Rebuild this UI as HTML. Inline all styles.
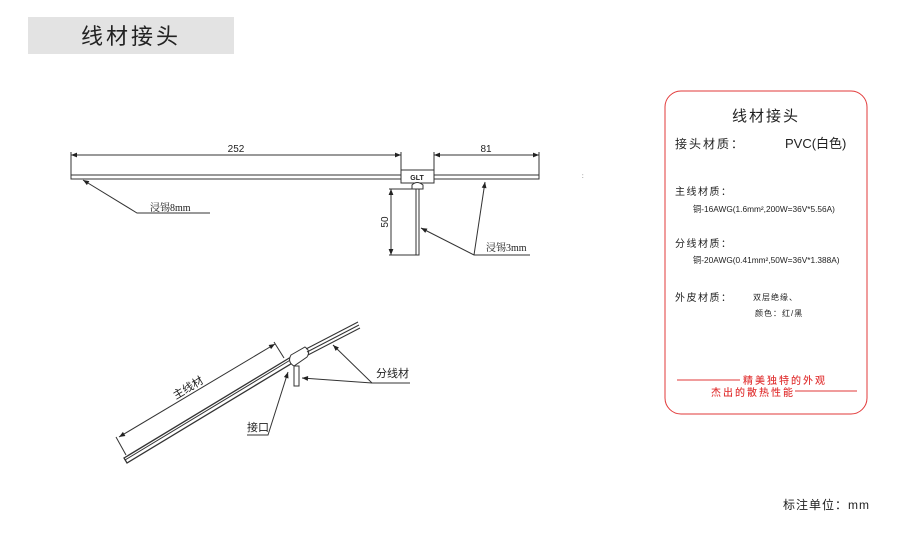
<!DOCTYPE html>
<html><head><meta charset="utf-8"><style>
body{margin:0;background:#fff;}
svg{display:block;font-family:"Liberation Sans","Noto Sans CJK SC",sans-serif;}
</style></head><body>
<svg width="899" height="537" viewBox="0 0 899 537" xmlns="http://www.w3.org/2000/svg">
<defs>
<marker id="a" viewBox="0 0 10 10" refX="10" refY="5" markerWidth="8" markerHeight="6" orient="auto-start-reverse"><path d="M0,1 L10,5 L0,9 z" fill="#222"/></marker>
</defs>
<rect x="28" y="17" width="206" height="37" fill="#e3e3e3"/>
<text x="131" y="44" font-size="22" text-anchor="middle" fill="#222" letter-spacing="3">线材接头</text>

<g stroke="#333" stroke-width="1" fill="none">
<rect x="71" y="175" width="330" height="4" fill="#fff"/>
<rect x="434" y="175" width="105" height="4" fill="#fff"/>
<rect x="401" y="170" width="33" height="13" fill="#fff"/>
<path d="M412,189 L412,185 Q417,180 423,185 L423,189 Z" fill="#fff"/>
<rect x="416" y="189" width="3" height="66" fill="#fff"/>
<line x1="71" y1="152" x2="71" y2="175"/>
<line x1="401" y1="152" x2="401" y2="170"/>
<line x1="434" y1="152" x2="434" y2="170"/>
<line x1="539" y1="152" x2="539" y2="175"/>
<line x1="71" y1="155" x2="401" y2="155" marker-start="url(#a)" marker-end="url(#a)"/>
<line x1="434" y1="155" x2="539" y2="155" marker-start="url(#a)" marker-end="url(#a)"/>
<line x1="389" y1="189" x2="416" y2="189"/>
<line x1="389" y1="255" x2="416" y2="255"/>
<line x1="391" y1="189" x2="391" y2="255" marker-start="url(#a)" marker-end="url(#a)"/>
<polyline points="210,213 137,213 83,180" marker-end="url(#a)"/>
<polyline points="530,255 474,255 421,228" marker-end="url(#a)"/>
<line x1="474" y1="255" x2="485" y2="182" marker-end="url(#a)"/>

<path d="M124,458 L291,357 L294,362 L127,463 Z" fill="#fff" stroke-width="1.3"/>
<line x1="125" y1="460" x2="292" y2="359"/>
<path d="M291,355 L305,347 Q311,351 307,357 L294,366 Q287,362 291,355 Z" fill="#fff"/>
<line x1="306" y1="349" x2="358" y2="322"/>
<line x1="307" y1="352" x2="359" y2="325"/>
<line x1="308" y1="355" x2="360" y2="328"/>
<rect x="294" y="366" width="5" height="20" fill="#fff"/>
<line x1="116" y1="437" x2="126" y2="455"/>
<line x1="274" y1="342" x2="284" y2="358"/>
<line x1="119" y1="437" x2="275" y2="344" marker-start="url(#a)" marker-end="url(#a)"/>
<polyline points="410,383 372,383 333,345" marker-end="url(#a)"/>
<line x1="372" y1="383" x2="302" y2="378" marker-end="url(#a)"/>
<polyline points="247,435 268,435 288,372" marker-end="url(#a)"/>
</g>
<g font-size="10" fill="#222">
<text x="236" y="152" text-anchor="middle">252</text>
<text x="486" y="152" text-anchor="middle">81</text>
<text x="388" y="222" text-anchor="middle" transform="rotate(-90 388 222)">50</text>
<text x="417" y="180" text-anchor="middle" font-size="7" font-weight="bold">GLT</text>
<text x="150" y="211" font-family="Liberation Serif,Noto Serif CJK SC,serif">浸锡8mm</text>
<text x="486" y="251" font-family="Liberation Serif,Noto Serif CJK SC,serif">浸锡3mm</text>
<text x="190" y="391" text-anchor="middle" transform="rotate(-31 190 391)" font-size="11">主线材</text>
<text x="376" y="377" font-size="11">分线材</text>
<text x="247" y="431" font-size="11">接口</text>
<text x="582" y="178" font-size="6">:</text>
</g>

<rect x="665" y="91" width="202" height="323" rx="16" fill="#fff" stroke="#e23a3a" stroke-width="1"/>
<g fill="#222">
<text x="766" y="121" font-size="15" text-anchor="middle" letter-spacing="2">线材接头</text>
<text x="675" y="148" font-size="12" letter-spacing="2">接头材质：</text>
<text x="785" y="148" font-size="13">PVC(白色)</text>
<text x="675" y="195" font-size="10" letter-spacing="1.5">主线材质：</text>
<text x="693" y="212" font-size="8.3">铜-16AWG(1.6mm²,200W=36V*5.56A)</text>
<text x="675" y="247" font-size="10" letter-spacing="1.5">分线材质：</text>
<text x="693" y="263" font-size="8.3">铜-20AWG(0.41mm²,50W=36V*1.388A)</text>
<text x="675" y="301" font-size="10" letter-spacing="1.5">外皮材质：</text>
<text x="753" y="300" font-size="8" letter-spacing="1">双层绝缘、</text>
<text x="755" y="316" font-size="8" letter-spacing="1">颜色：红/黑</text>
</g>
<g fill="#e23a3a" font-size="10" letter-spacing="2" font-weight="500">
<line x1="677" y1="380" x2="740" y2="380" stroke="#e23a3a"/>
<text x="743" y="384">精美独特的外观</text>
<text x="711" y="396">杰出的散热性能</text>
<line x1="795" y1="391" x2="857" y2="391" stroke="#e23a3a"/>
</g>
<text x="783" y="509" font-size="12" fill="#222" letter-spacing="1">标注单位：mm</text>
</svg>
</body></html>
